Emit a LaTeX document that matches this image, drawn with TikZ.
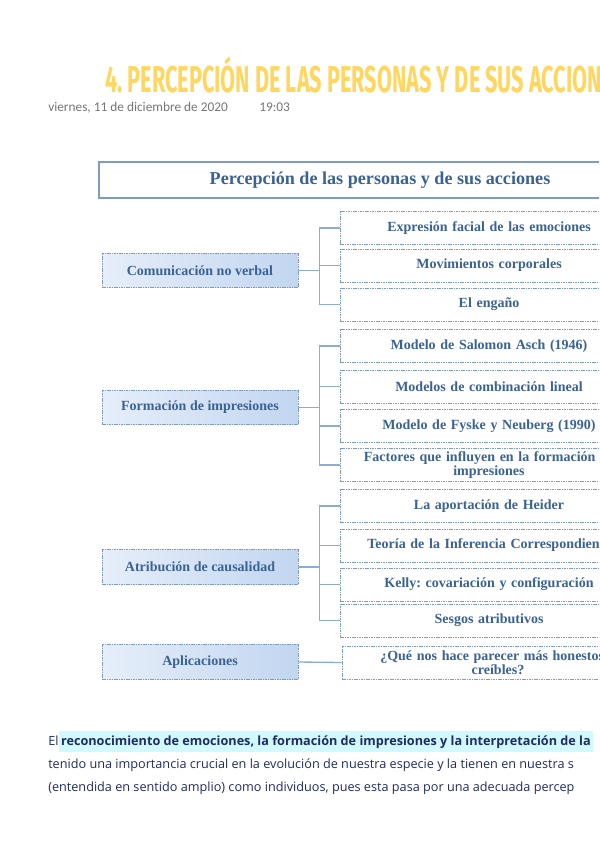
\documentclass[tikz,border=0pt]{standalone}
\usepackage{fontspec}
\setmainfont{Liberation Serif}
\newfontfamily\headfont[FakeStretch=0.58]{Fira Sans}
\newfontfamily\datefont{Carlito}
\newfontfamily\notefont{Open Sans}
\definecolor{boxtext}{RGB}{59,98,148}
\definecolor{boxline}{RGB}{125,155,195}
\definecolor{linkblue}{RGB}{140,172,212}
\definecolor{leftfill}{RGB}{230,238,249}
\definecolor{leftfillb}{RGB}{194,214,240}
\definecolor{headyellow}{RGB}{255,214,96}
\definecolor{dategray}{RGB}{118,118,118}
\definecolor{notenavy}{RGB}{32,44,98}
\definecolor{markcyan}{RGB}{208,250,255}
\usetikzlibrary{positioning}
\frenchspacing

\begin{document}
\begin{tikzpicture}[
            x=0.75pt, y=-0.75pt,
            headbox/.style={draw=boxline, line width=0.8pt, minimum width=421.5pt, minimum height=27pt,
                       inner sep=0pt, font=\fontsize{13.6}{15}\selectfont\bfseries, text=boxtext},
            topicbox/.style={draw=boxline, dash pattern=on 1.2pt off 0.6pt, line width=0.6pt,
                       left color=leftfill, right color=leftfillb, minimum width=147pt, minimum height=26pt,
                       inner sep=0pt, font=\fontsize{10.5}{12}\selectfont\bfseries, text=boxtext},
            itembox/.style={draw=boxline, dash pattern=on 1.2pt off 0.6pt, line width=0.6pt, fill=white,
                       minimum width=223.5pt, minimum height=24.75pt, text width=220pt, align=center,
                       inner sep=0pt, font=\fontsize{10.5}{10.5}\selectfont\bfseries, text=boxtext},
            link/.style={draw=linkblue, line width=1pt},
            note/.style={inner sep=0pt, text=notenavy, font=\notefont\fontsize{9.5}{10}\selectfont}
        ]
            \useasboundingbox (0,0) rectangle (599,848);
            \fill[white] (0,0) rectangle (599,848);
            \clip (0,0) rectangle (599,848);

            % page heading
            \node[anchor=base west, inner sep=0pt, text=headyellow,
                  font=\headfont\fontsize{28}{30}\selectfont\bfseries] (head) at (105,93)
                  {4. PERCEPCIÓN DE LAS PERSONAS Y DE SUS ACCIONES};
            \node[anchor=base west, inner sep=0pt, text=dategray,
                  font=\datefont\fontsize{10}{11}\selectfont] (date) at (48,112)
                  {viernes, 11 de diciembre de 2020};
            \node[anchor=base west, inner sep=0pt, text=dategray,
                  font=\datefont\fontsize{10}{11}\selectfont] (time) at (259,112) {19:03};

            \node[headbox] (title) at (380,180) {Percepción de las personas y de sus acciones};

            \node[topicbox] (com) at (200,270.5) {Comunicación no verbal};
            \node[topicbox] (form) at (200,407.5) {Formación de impresiones};
            \node[topicbox] (atrib) at (200,567) {Atribución de causalidad};
            \node[topicbox] (aplic) at (200,662) {Aplicaciones};

            \node[itembox] (expr) at (489,228) {Expresión facial de las emociones};
            \node[itembox] (movim) at (489,265.5) {Movimientos corporales};
            \node[itembox] (engano) at (489,304.5) {El engaño};

            \node[itembox] (asch) at (489,346) {Modelo de Salomon Asch (1946)};
            \node[itembox] (lineal) at (489,386.5) {Modelos de combinación lineal};
            \node[itembox] (fyske) at (489,426) {Modelo de Fyske y Neuberg (1990)};
            \node[itembox] (factores) at (489,465) {Factores que influyen en la formación de\\impresiones};

            \node[itembox] (heider) at (489,506) {La aportación de Heider};
            \node[itembox] (teoria) at (489,545.5) {Teoría de la Inferencia Correspondiente};
            \node[itembox] (kelly) at (489,584.5) {Kelly: covariación y configuración};
            \node[itembox] (sesgos) at (489,620.5) {Sesgos atributivos};

            \node[itembox, minimum width=234pt] (honestos) at (498,662.5) {¿Qué nos hace parecer más honestos y\\creíbles?};

            \draw[link] (com.east) -- ++(21,0) |- (expr.west);
            \draw[link] (com.east) -- ++(21,0) |- (movim.west);
            \draw[link] (com.east) -- ++(21,0) |- (engano.west);
            \draw[link] (form.east) -- ++(21,0) |- (asch.west);
            \draw[link] (form.east) -- ++(21,0) |- (lineal.west);
            \draw[link] (form.east) -- ++(21,0) |- (fyske.west);
            \draw[link] (form.east) -- ++(21,0) |- (factores.west);
            \draw[link] (atrib.east) -- ++(21,0) |- (heider.west);
            \draw[link] (atrib.east) -- ++(21,0) |- (teoria.west);
            \draw[link] (atrib.east) -- ++(21,0) |- (kelly.west);
            \draw[link] (atrib.east) -- ++(21,0) |- (sesgos.west);
            \draw[link] (aplic.east) -- (honestos.west);

            % note below the map
            \node[note, anchor=base west] (el) at (48,745) {El};
            \node[note, anchor=base west, fill=markcyan, inner xsep=1.5pt, inner ysep=3pt,
                  font=\notefont\fontsize{9.5}{10}\selectfont\bfseries] (mark) at (el.base east)
                  {reconocimiento de emociones, la formación de impresiones y la interpretación de la};
            \node[note, anchor=base west] (line2) at (48,768)
                  {tenido una importancia crucial en la evolución de nuestra especie y la tienen en nuestra s};
            \node[note, anchor=base west] (line3) at (48,791)
                  {(entendida en sentido amplio) como individuos, pues esta pasa por una adecuada percep};
        \end{tikzpicture}
\end{document}
